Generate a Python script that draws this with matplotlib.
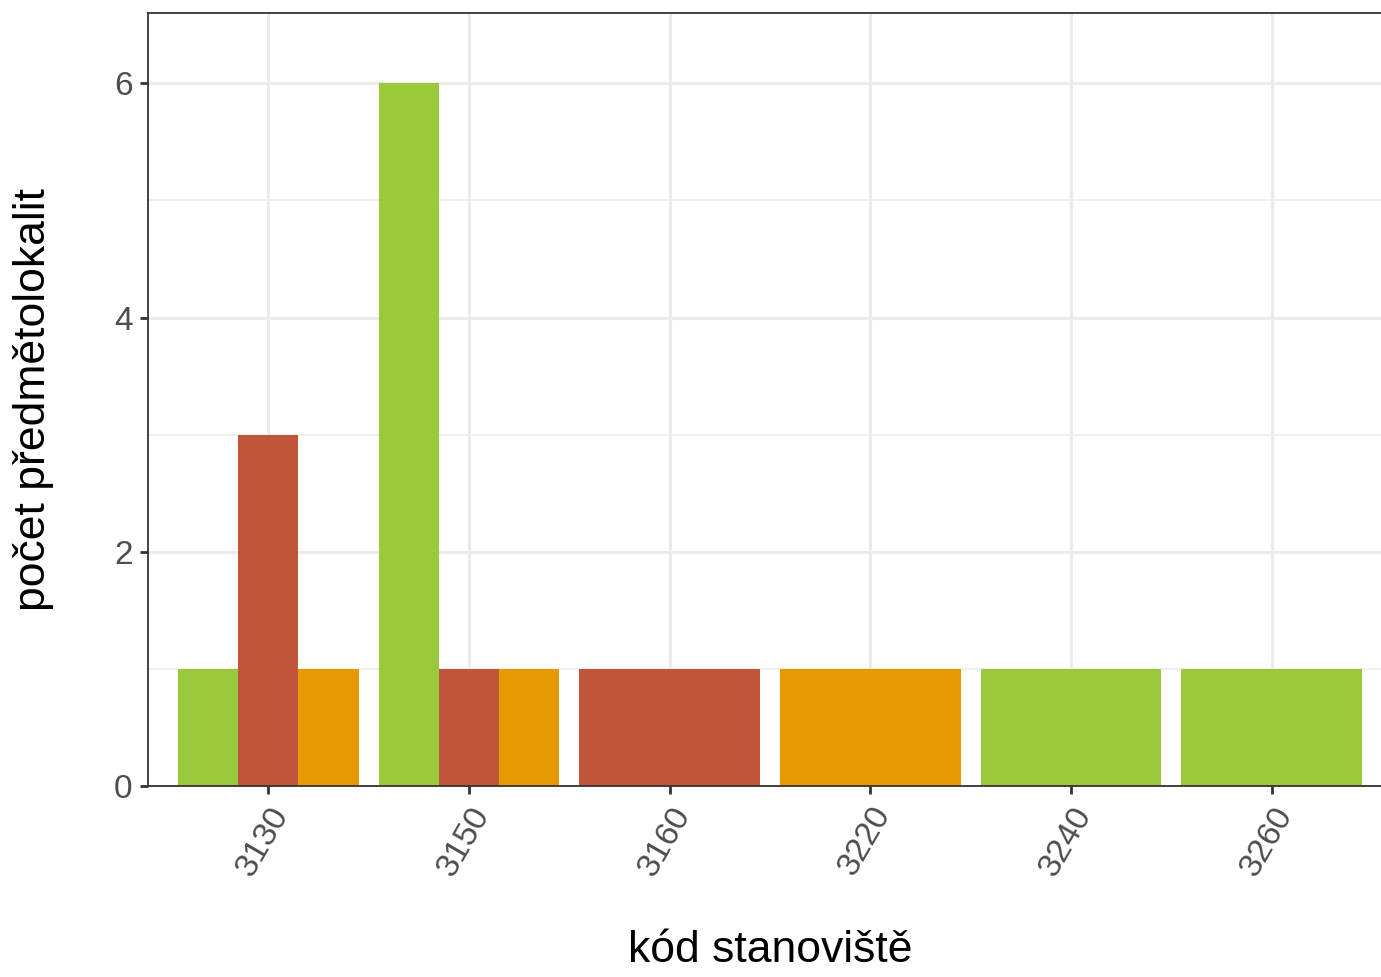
import numpy as np
import matplotlib
matplotlib.use("Agg")
import matplotlib.pyplot as plt

plt.rcParams['font.family'] = ['Liberation Sans', 'DejaVu Sans']

# kódy stanovišť a počty předmětolokalit podle skupiny (0 = bez sloupce)
codes = ['3130', '3150', '3160', '3220', '3240', '3260']
group_names = ['zelená', 'červená', 'oranžová']
green = [1, 6, 0, 0, 1, 1]
red = [3, 1, 1, 0, 0, 0]
orange = [1, 1, 0, 1, 0, 0]
colors = ['#9ACA3C', '#C0553B', '#E69A00']

series = [green, red, orange]

fig = plt.figure(figsize=(13.81, 9.77), dpi=100)
ax = fig.add_axes([148 / 1381, 191 / 977, 1244 / 1381, 773 / 977])

x = np.arange(1, len(codes) + 1)
total_w = 0.9
for i, xc in enumerate(x):
    present = [k for k in range(len(series)) if series[k][i] > 0]
    n = len(present)
    w = total_w / n
    for j, k in enumerate(present):
        pos = xc - total_w / 2 + w * (j + 0.5)
        ax.bar(pos, series[k][i], width=w, color=colors[k], zorder=2)

ax.set_xlim(0.4, 6.6)
ax.set_ylim(0, 6.6)
ax.set_xticks(x)
ax.set_xticklabels(codes, rotation=60, ha='right', rotation_mode='anchor')
ax.set_yticks([0, 2, 4, 6])
ax.set_yticks([1, 3, 5], minor=True)

ax.grid(True, which='major', color='#EBEBEB', linewidth=2.2, zorder=0)
ax.grid(True, which='minor', axis='y', color='#EBEBEB', linewidth=1.1, zorder=0)
ax.set_axisbelow(True)

for s in ['left', 'bottom', 'top', 'right']:
    ax.spines[s].set_color('#333333')
    ax.spines[s].set_linewidth(1.3)

ax.tick_params(axis='both', which='major', length=6, width=2, color='#333333',
               labelsize=24, labelcolor='#4D4D4D', pad=5)
ax.tick_params(axis='y', which='minor', length=0)

ax.set_xlabel('kód stanoviště', fontsize=32, va='center')
ax.set_ylabel('počet předmětolokalit', fontsize=32, va='center')
ax.xaxis.set_label_coords(0.5, (786 - 951) / 773)
ax.yaxis.set_label_coords((34 - 148) / 1244, 0.5)

fig.savefig('out.png', dpi=100)
